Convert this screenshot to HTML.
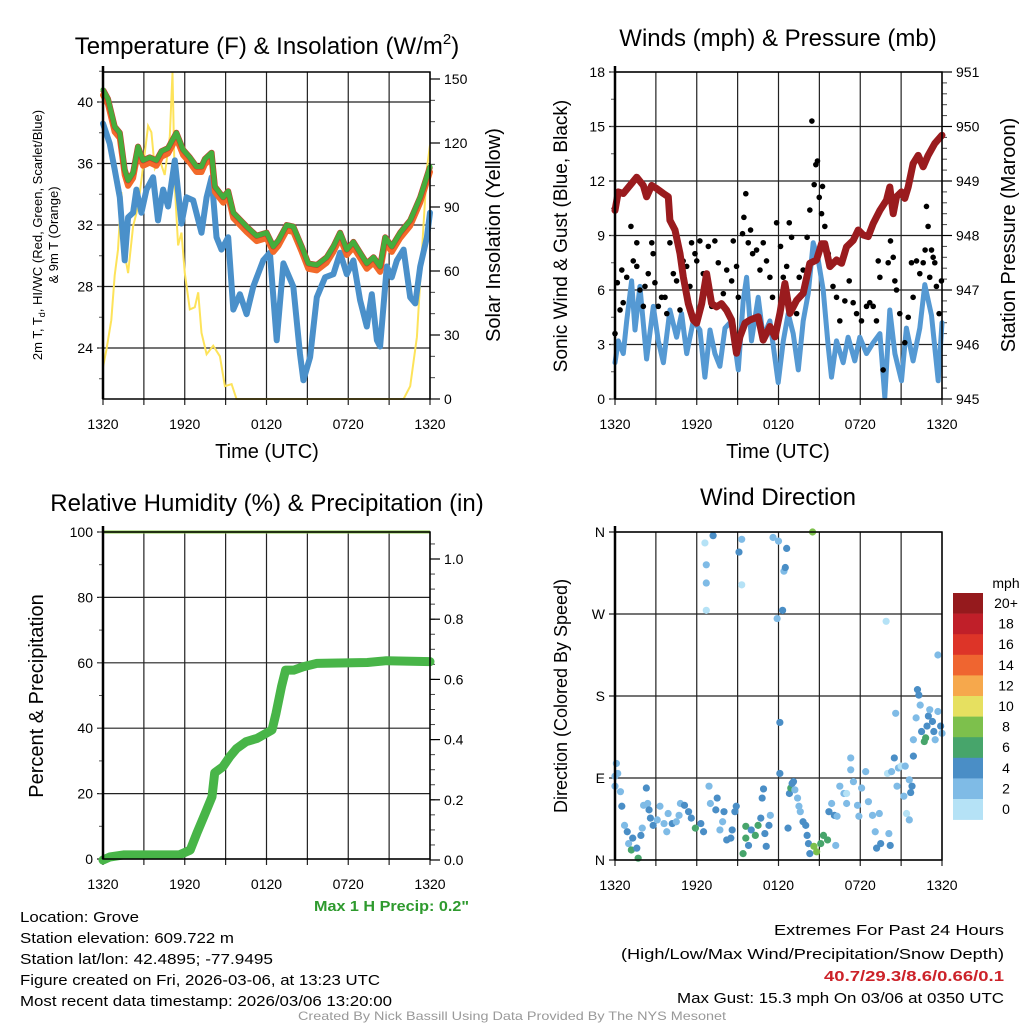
<!DOCTYPE html>
<html><head><meta charset="utf-8"><style>
html,body{margin:0;padding:0;background:#fff;}
svg{display:block;font-family:"Liberation Sans",sans-serif;}
</style></head><body>
<svg id="fig" width="1024" height="1024" viewBox="0 0 1024 1024" xmlns="http://www.w3.org/2000/svg">
<rect width="1024" height="1024" fill="#fff"/>
<g id="p1"></g>
<g id="p2"></g>
<g id="p3"></g>
<g id="p4"></g>
<g id="txt">
<text x="267" y="54" font-size="24" text-anchor="middle">Temperature (F) &amp; Insolation (W/m<tspan font-size="15" dy="-10">2</tspan><tspan dy="10">)</tspan></text>
<text x="778" y="46" font-size="24" text-anchor="middle">Winds (mph) &amp; Pressure (mb)</text>
<text x="267" y="511" font-size="24" text-anchor="middle">Relative Humidity (%) &amp; Precipitation (in)</text>
<text x="778" y="505" font-size="24" text-anchor="middle">Wind Direction</text>
<text x="267" y="458" font-size="20" text-anchor="middle">Time (UTC)</text>
<text x="778" y="458" font-size="20" text-anchor="middle">Time (UTC)</text>
<text transform="translate(42,235) rotate(-90)" font-size="13" text-anchor="middle">2m T, T<tspan font-size="9" dy="3">d</tspan><tspan dy="-3">, HI/WC (Red, Green, Scarlet/Blue)</tspan></text>
<text transform="translate(58,235) rotate(-90)" font-size="13" text-anchor="middle">&amp; 9m T (Orange)</text>
<text transform="translate(500,235) rotate(-90)" font-size="20" text-anchor="middle">Solar Insolation (Yellow)</text>
<text transform="translate(567,236) rotate(-90)" font-size="19" text-anchor="middle">Sonic Wind &amp; Gust (Blue, Black)</text>
<text transform="translate(1015,235) rotate(-90)" font-size="20" text-anchor="middle">Station Pressure (Maroon)</text>
<text transform="translate(43,696) rotate(-90)" font-size="20" text-anchor="middle">Percent &amp; Precipitation</text>
<text transform="translate(567,696) rotate(-90)" font-size="18" text-anchor="middle">Direction (Colored By Speed)</text>
<text x="469" y="911" font-size="15" font-weight="bold" fill="#2e9a2e" text-anchor="end" textLength="155" lengthAdjust="spacingAndGlyphs">Max 1 H Precip: 0.2"</text>
<text x="20" y="922" font-size="15" textLength="119" lengthAdjust="spacingAndGlyphs">Location: Grove</text>
<text x="20" y="943" font-size="15" textLength="214" lengthAdjust="spacingAndGlyphs">Station elevation: 609.722 m</text>
<text x="20" y="964" font-size="15" textLength="253" lengthAdjust="spacingAndGlyphs">Station lat/lon: 42.4895; -77.9495</text>
<text x="20" y="985" font-size="15" textLength="360" lengthAdjust="spacingAndGlyphs">Figure created on Fri, 2026-03-06, at 13:23 UTC</text>
<text x="20" y="1006" font-size="15" textLength="372" lengthAdjust="spacingAndGlyphs">Most recent data timestamp: 2026/03/06 13:20:00</text>
<text x="1004" y="935" font-size="15" text-anchor="end" textLength="230" lengthAdjust="spacingAndGlyphs">Extremes For Past 24 Hours</text>
<text x="1004" y="959" font-size="15" text-anchor="end" textLength="383" lengthAdjust="spacingAndGlyphs">(High/Low/Max Wind/Precipitation/Snow Depth)</text>
<text x="1004" y="981" font-size="15" font-weight="bold" fill="#cc2229" text-anchor="end" textLength="180" lengthAdjust="spacingAndGlyphs">40.7/29.3/8.6/0.66/0.1</text>
<text x="1004" y="1003" font-size="15" text-anchor="end" textLength="327" lengthAdjust="spacingAndGlyphs">Max Gust: 15.3 mph On 03/06 at 0350 UTC</text>
<text x="512" y="1020" font-size="12" fill="#999" text-anchor="middle" textLength="428" lengthAdjust="spacingAndGlyphs">Created By Nick Bassill Using Data Provided By The NYS Mesonet</text>
</g>
</svg>
<script>
// ---- Panel 1 data ----
const tempHours=[0,0.37,0.86,1.23,1.59,1.84,2.21,2.57,2.94,3.43,3.92,4.29,4.78,5.39,5.88,6.37,6.86,7.23,7.48,7.97,8.21,8.82,9.19,9.56,10.54,11.27,12.01,12.5,12.87,13.48,13.97,14.58,15.07,15.69,16.42,16.91,17.4,17.89,18.38,18.87,19.36,19.85,20.34,20.71,21.2,21.81,22.55,23.28,24];
const tempValues=[40.8,40.2,38.4,38.0,35.6,34.9,35.4,37.1,36.2,36.4,36.2,36.8,37.0,38.0,36.9,36.4,35.8,35.8,36.3,36.7,34.5,33.8,34.2,32.8,31.9,31.3,31.5,30.6,31.0,32.0,31.9,30.6,29.5,29.4,29.9,30.6,31.5,30.4,30.9,30.2,29.5,29.9,29.3,31.2,30.6,31.5,32.3,33.8,35.8];
const dewHours=[0,0.49,0.86,1.23,1.59,1.84,2.21,2.45,2.82,3.19,3.68,4.04,4.41,4.78,5.27,5.76,6.13,6.62,7.23,7.6,7.97,8.33,8.7,9.19,9.56,10.05,10.54,11.03,11.76,12.25,12.75,13.24,13.97,14.46,14.71,15.2,15.69,16.3,16.91,17.4,17.89,18.38,18.87,19.36,19.73,20.1,20.34,20.83,21.2,21.57,22.06,22.55,22.92,23.28,23.77,24];
const dewValues=[38.6,37.3,35.6,33.8,29.7,32.5,32.8,34.3,32.8,34.3,35.1,32.3,34.3,33.2,36.2,32.1,33.8,33.6,31.5,33.8,35.1,31.2,30.4,31.2,26.5,27.5,26.2,28.0,29.7,30.2,24.5,29.5,28.0,23.6,21.9,23.4,27.3,28.6,28.8,30.2,28.8,29.7,27.1,25.4,27.5,24.5,24.1,29.3,28.6,29.7,30.4,27.3,26.9,29.3,31.2,32.8];
const solarHours=[0,0.25,0.61,0.86,1.1,1.35,1.59,1.84,2.21,2.57,2.94,3.31,3.55,3.8,4.17,4.53,4.9,5.1,5.27,5.51,5.76,6.0,6.37,6.74,6.99,7.23,7.6,8.09,8.58,8.95,9.44,9.8,22.06,22.55,23.04,23.4,23.77,24];
const solarValues=[15,23,37,58,70,97,68,59,81,90,109,128,125,108,112,105,123,153,100,72,78,59,42,43,50,31,21,25,20,6,7,0,0,6,29,68,108,119];
const timeTicks=["1320","1920","0120","0720","1320"];
const tempTicks=[24,28,32,36,40];
const solarTicks=[0,30,60,90,120,150];
// ---- Panel 2 data ----
const presHours=[0,0.24,0.61,1.1,1.59,2.08,2.32,2.69,3.06,3.55,3.91,4.03,4.4,4.77,5.01,5.38,5.75,5.99,6.36,6.72,7.09,7.46,7.82,8.19,8.56,8.92,9.17,9.54,9.9,10.51,10.88,11.37,11.74,12.1,12.47,12.84,13.33,13.81,14.3,14.79,15.16,15.4,15.77,16.26,16.63,16.99,17.48,17.85,18.22,18.58,18.95,19.44,19.93,20.17,20.42,20.66,21.03,21.27,21.52,21.88,22.25,22.62,22.98,23.47,24];
const presValues=[948.46,948.80,948.77,948.92,949.07,948.92,948.71,948.92,948.86,948.77,948.71,948.28,948.10,947.67,947.24,946.75,946.45,946.39,946.75,947.30,946.75,946.69,946.75,946.63,946.45,945.84,946.14,946.39,946.45,946.51,946.08,946.33,946.14,946.57,947.12,946.57,946.81,946.94,947.49,947.55,947.85,947.85,947.43,947.55,947.49,947.79,947.91,948.10,948.01,947.98,948.22,948.46,948.65,948.89,948.40,948.71,948.80,948.68,948.89,949.32,949.47,949.26,949.47,949.69,949.84];
const windHours=[0,0.24,0.61,0.86,1.22,1.47,1.83,2.32,2.81,3.18,3.55,4.03,4.52,4.89,5.26,5.75,6.23,6.6,6.97,7.33,7.7,8.07,8.56,9.05,9.41,9.66,10.02,10.51,10.88,11.37,11.98,12.35,12.71,13.08,13.45,13.81,14.18,14.55,14.91,15.28,15.65,15.89,16.26,16.75,17.11,17.6,17.97,18.46,18.95,19.44,19.8,20.17,20.54,21.03,21.39,21.88,22.37,22.74,23.23,23.72,24];
const windValues=[2.0,3.2,2.5,4.3,6.5,3.8,6.2,2.2,5.1,3.2,2.0,4.9,3.4,4.7,2.5,4.3,3.8,1.2,3.8,2.5,1.8,3.9,4.3,1.6,5.4,6.7,3.2,5.6,3.4,4.3,0.9,3.2,4.7,3.6,1.6,4.3,5.8,8.6,7.7,6.0,2.9,1.2,3.2,2.0,3.4,2.1,3.4,2.5,3.1,3.6,0.1,4.9,2.5,1.0,3.9,2.1,3.9,6.3,4.6,1.0,4.2];
const gustHours=[0,0.17,0.37,0.6,0.5,0.86,1.17,1.34,1.6,1.6,1.83,2.08,2.2,2.44,2.7,2.8,2.93,3.18,3.42,3.67,3.8,4.03,4.28,4.52,4.77,5.0,5.26,5.5,5.62,5.87,6.0,6.23,6.48,6.85,7.1,7.33,7.58,7.95,8.2,8.56,8.68,8.92,9.05,9.36,9.46,9.6,9.78,9.95,10.1,10.39,10.64,10.88,11.12,11.37,11.56,11.86,12.15,12.35,12.6,12.79,12.96,13.33,13.52,13.81,14.1,14.3,14.45,14.62,14.74,14.86,14.99,15.16,15.23,15.4,15.65,16.0,16.26,16.5,16.87,17.19,17.48,17.73,18.09,18.46,18.7,18.95,19.19,19.32,19.44,19.68,20.05,20.22,20.42,20.54,20.66,20.9,21.27,21.52,21.76,21.88,22.13,22.37,22.62,22.76,22.86,22.98,23.1,23.23,23.35,23.47,23.59,23.79,23.96];
const gustValues=[3.6,6.4,4.9,5.3,7.1,6.7,9.5,7.6,8.6,7.3,6.0,5.1,6.2,6.9,8.6,8.0,6.4,5.1,5.6,5.6,4.7,8.6,6.9,6.5,4.9,7.6,7.3,6.2,8.6,8.0,7.6,8.7,6.9,8.4,5.1,8.7,7.5,5.8,7.1,6.5,8.7,7.3,5.6,9.1,10.0,11.3,8.6,9.3,8.0,8.2,7.1,8.6,7.6,6.7,5.6,9.7,8.4,6.7,7.3,9.7,8.9,4.7,6.7,7.1,8.9,10.4,15.3,11.8,12.9,13.1,11.1,10.2,11.7,9.5,8.0,6.2,5.6,4.3,5.4,6.5,5.3,4.7,4.3,5.1,5.3,5.1,4.3,7.6,6.7,1.6,7.5,8.7,7.8,6.5,6.0,4.7,3.1,4.5,7.5,5.6,7.6,6.9,7.5,8.2,10.6,9.5,6.7,8.2,7.8,7.5,6.2,4.7,6.5];
const windTicks=[0,3,6,9,12,15,18];
const presTicks=[945,946,947,948,949,950,951];
// ---- Panel 3 data ----
const precipHours=[0,0.5,1.5,5.6,6.4,6.9,7.5,8.0,8.2,8.8,9.3,9.8,10.5,11.3,12.4,12.7,13.1,13.4,14.0,14.7,15.7,19.4,20.8,24];
const precipValues=[0,0.01,0.017,0.017,0.033,0.09,0.155,0.21,0.29,0.31,0.343,0.37,0.393,0.404,0.432,0.487,0.576,0.631,0.631,0.642,0.653,0.656,0.662,0.659];
const rhHours=[0,24];
const rhValues=[100,100];
const rhTicks=[0,20,40,60,80,100];
const precipTicks=["0.0","0.2","0.4","0.6","0.8","1.0"];
// ---- Panel 4 data ----
const dirHours=[0.0,0.1,0.2,0.0,0.4,0.5,0.7,0.9,1.0,1.2,1.3,1.7,1.6,1.9,2.0,2.1,2.3,2.4,2.5,2.6,2.8,3.1,3.3,3.6,3.8,3.9,4.2,4.5,4.7,4.8,5.1,5.4,5.6,5.9,6.3,6.5,6.6,6.7,6.7,6.7,6.9,7.0,7.2,7.4,7.5,7.7,7.9,8.0,8.2,8.5,8.6,8.8,8.9,9.1,9.3,9.3,9.4,9.6,9.6,9.8,10.0,10.3,10.5,10.7,10.8,10.9,11.0,11.1,11.3,11.4,11.6,11.9,12.0,12.1,12.1,12.3,12.4,12.5,12.6,12.7,12.8,12.9,13.0,13.1,13.2,13.4,13.5,13.6,13.8,14.0,14.1,14.2,14.5,14.3,14.6,14.8,15.1,15.3,15.6,15.7,15.9,16.1,16.2,16.3,16.5,16.8,17.0,17.0,17.3,17.3,17.5,17.8,17.9,18.1,18.4,18.6,18.9,19.1,19.2,19.4,19.5,19.9,20.0,20.1,20.2,20.3,20.5,20.6,20.7,20.8,21.0,21.2,21.3,21.4,21.6,21.6,21.7,21.8,21.9,21.9,22.1,22.2,22.3,22.4,22.5,22.7,22.8,22.9,23.0,23.1,23.3,23.4,23.5,23.7,23.7,23.9,24.0];
const dirDegrees=[92,106,95,81,75,59,38,31,18,11,24,2,13,27,35,60,79,62,55,46,38,44,59,40,31,51,40,42,49,62,60,53,46,35,40,31,348,324,304,274,81,62,356,55,68,33,42,53,22,24,33,53,59,338,352,302,7,37,24,16,33,27,38,46,68,78,29,15,38,49,354,265,350,95,151,274,317,321,342,35,73,79,84,86,77,68,59,53,42,38,27,18,360,7,15,9,18,27,22,53,62,49,16,48,81,73,73,62,112,99,86,60,48,79,97,64,49,31,13,51,18,262,95,29,16,97,112,161,81,101,103,70,103,51,44,88,74,81,114,132,156,187,181,170,141,130,134,147,158,165,152,141,132,163,225,147,139];
const dirSpeeds=[3,3,3,3,3,5,3,5,3,7,5,7,5,5,3,3,5,3,5,5,5,3,3,3,3,3,5,3,3,3,5,5,5,7,5,5,1,3,3,1,3,3,5,5,5,3,3,5,5,5,5,5,5,5,3,1,7,7,7,5,5,7,7,5,5,5,5,5,5,3,3,3,3,5,5,5,3,5,5,5,5,7,5,5,3,3,3,3,5,5,5,5,9,5,9,9,7,7,7,5,3,5,3,3,3,3,1,3,3,3,3,3,3,3,3,3,3,3,5,3,5,1,1,3,5,3,5,3,3,3,1,3,3,1,3,3,5,5,5,3,3,5,5,3,5,7,7,5,5,3,5,5,3,3,3,5];
const legendLabels=["20+","18","16","14","12","10","8","6","4","2","0"];
const legendColors=["#951a1d","#c01f29","#dd3428","#ef6530","#f6a84c","#e6e060","#7dc04c","#47a56b","#4a8ec6","#7fbbe6","#b5e2f6"];
const dirLabels=["N","E","S","W","N"];
const dirTickValues=[0,90,180,270,360];

const NS="http://www.w3.org/2000/svg";
function mk(parent,tag,attrs){const e=document.createElementNS(NS,tag);for(const k in attrs)e.setAttribute(k,attrs[k]);parent.appendChild(e);return e;}
function lin(d0,d1,r0,r1){return v=>r0+(v-d0)*(r1-r0)/(d1-d0);}
function pathD(xs,ys,fx,fy){return xs.map((h,i)=>(i?"L":"M")+fx(h).toFixed(1)+","+fy(ys[i]).toFixed(1)).join("");}

function frame(g,x0,x1,y0,y1,hTicks,fy,lblFn){
  const fx=lin(0,24,x0,x1);
  for(let k=0;k<=8;k++){const x=fx(k*3);
    const l=mk(g,"line",{x1:x,x2:x,y1:y0,y2:y1+6,stroke:"#222","stroke-width":1.2});
    
    
  }
  timeTicks.forEach((t,i)=>{const tx=mk(g,"text",{x:fx(i*6),y:y1+30,"font-size":14,"text-anchor":"middle"});tx.textContent=t;
    
    });
  hTicks.forEach((v,i)=>{const y=fy(v);
    const l=mk(g,"line",{x1:x0-6,x2:x1,y1:y,y2:y,stroke:"#222","stroke-width":1.2});
    
    
    const tx=mk(g,"text",{x:x0-10,y:y+5,"font-size":14,"text-anchor":"end"});tx.textContent=lblFn?lblFn(v,i):v;
    
    });
  return fx;
}
function border(g,x0,x1,y0,y1){
  const r=mk(g,"rect",{x:x0,y:y0,width:x1-x0,height:y1-y0,fill:"none",stroke:"#000","stroke-width":1.5});
  
  
  mk(g,"line",{x1:x0,x2:x0,y1:y0-6,y2:y1,stroke:"#000","stroke-width":2.5});
}
function rightAxis(g,x1,ticks,fy,minorStep,lo,hi){
  for(let v=lo;v<=hi+1e-9;v+=minorStep){mk(g,"line",{x1:x1,x2:x1+5,y1:fy(v),y2:fy(v),stroke:"#444","stroke-width":1});}
  ticks.forEach(t=>{const v=parseFloat(t);const y=fy(v);
    mk(g,"line",{x1:x1,x2:x1+10,y1:y,y2:y,stroke:"#000","stroke-width":1.2});
    const tx=mk(g,"text",{x:x1+14,y:y+5,"font-size":14});tx.textContent=t;
    
    });
}
function leftMinor(g,x0,fy,lo,hi,step){for(let v=lo;v<=hi+1e-9;v+=step){mk(g,"line",{x1:x0-4,x2:x0,y1:fy(v),y2:fy(v),stroke:"#555","stroke-width":1});}}

// Panel 1
(function(){
  const g=document.getElementById("p1");
  const X0=103,X1=430,Y0=72,Y1=399;
  const fy=lin(40,24,102,348), fs=lin(0,150,399,79);
  const fx=frame(g,X0,X1,Y0,Y1,tempTicks,fy);
  leftMinor(g,X0,fy,22,42,2);
  rightAxis(g,X1,solarTicks.map(String),fs,10,0,150);
  const defs=mk(g,"clipPath",{id:"c1"});mk(defs,"rect",{x:X0,y:Y0,width:X1-X0,height:Y1-Y0+2});
  const s=mk(g,"path",{d:pathD(solarHours,solarValues,fx,fs),fill:"none",stroke:"#fde35a","stroke-width":2,"clip-path":"url(#c1)"});
  
  const d=mk(g,"path",{d:pathD(dewHours,dewValues,fx,fy),fill:"none",stroke:"#4a90ca","stroke-width":6,"stroke-linejoin":"round","stroke-linecap":"round"});
  
  const o=mk(g,"path",{d:pathD(tempHours,tempValues.map(v=>v-0.35),fx,fy),fill:"none",stroke:"#f26a2a","stroke-width":6,"stroke-linejoin":"round","stroke-linecap":"round"});
  
  const r=mk(g,"path",{d:pathD(tempHours,tempValues,fx,fy),fill:"none",stroke:"#d42a2a","stroke-width":6,"stroke-linejoin":"round"});
  
  const gr=mk(g,"path",{d:pathD(tempHours,tempValues,fx,fy),fill:"none",stroke:"#45ad3c","stroke-width":5,"stroke-linejoin":"round","stroke-linecap":"round"});
  
  border(g,X0,X1,Y0,Y1);
})();

// Panel 2
(function(){
  const g=document.getElementById("p2");
  const X0=615,X1=942,Y0=72,Y1=399;
  const fy=lin(0,18,399,72), fp=lin(945,951,399,72);
  const fx=frame(g,X0,X1,Y0,Y1,windTicks,fy);
  leftMinor(g,X0,fy,0,18,1.5);
  rightAxis(g,X1,presTicks.map(String),fp,0.2,945,951);
  const w=mk(g,"path",{d:pathD(windHours,windValues,fx,fy),fill:"none",stroke:"#5599d3","stroke-width":5,"stroke-linejoin":"round","stroke-linecap":"round"});
  
  gustHours.forEach((h,i)=>{const c=mk(g,"circle",{cx:fx(h),cy:fy(gustValues[i]),r:2.8,fill:"#000"});
    
    });
  const p=mk(g,"path",{d:pathD(presHours,presValues,fx,fp),fill:"none",stroke:"#9a1b1e","stroke-width":7,"stroke-linejoin":"round","stroke-linecap":"round"});
  
  border(g,X0,X1,Y0,Y1);
})();

// Panel 3
(function(){
  const g=document.getElementById("p3");
  const X0=103,X1=430,Y0=532,Y1=859;
  const fy=lin(0,100,859,532), fp=lin(0,1,860,559);
  const fx=frame(g,X0,X1,Y0,Y1,rhTicks,fy);
  leftMinor(g,X0,fy,0,100,10);
  rightAxis(g,X1,precipTicks,fp,0.05,0,1.08);
  const rh=mk(g,"path",{d:pathD(rhHours,rhValues,fx,fy),fill:"none",stroke:"#86c446","stroke-width":3});
  
  const pr=mk(g,"path",{d:pathD(precipHours,precipValues,fx,fp),fill:"none",stroke:"#48b548","stroke-width":9,"stroke-linejoin":"round","stroke-linecap":"round"});
  
  border(g,X0,X1,Y0,Y1);
})();

// Panel 4
(function(){
  const g=document.getElementById("p4");
  const X0=615,X1=942,Y0=532,Y1=860;
  const fy=lin(0,360,860,532);
  const fx=frame(g,X0,X1,Y0,Y1,dirTickValues,fy,(v,i)=>dirLabels[i]);
  function colorFor(s){if(s===undefined)s=3;const idx=Math.min(10,Math.floor(s/2));return legendColors[10-idx];}
  dirHours.forEach((h,i)=>{const c=mk(g,"circle",{cx:fx(h),cy:fy(dirDegrees[i]),r:3.6,fill:colorFor(dirSpeeds[i])});
    
    });
  border(g,X0,X1,Y0,Y1);
  const lg=mk(g,"g",{});
  
  
  const t=mk(lg,"text",{x:1006,y:588,"font-size":14,"text-anchor":"middle"});t.textContent="mph";
  const bh=20.6;
  legendLabels.forEach((l,i)=>{
    const r=mk(lg,"rect",{x:953,y:593+i*bh,width:30,height:bh+0.3,fill:legendColors[i]});
    
    
    const tx=mk(lg,"text",{x:1006,y:593+i*bh+15,"font-size":14,"text-anchor":"middle"});tx.textContent=l;
    
    
  });
})();
</script>
</body></html>
